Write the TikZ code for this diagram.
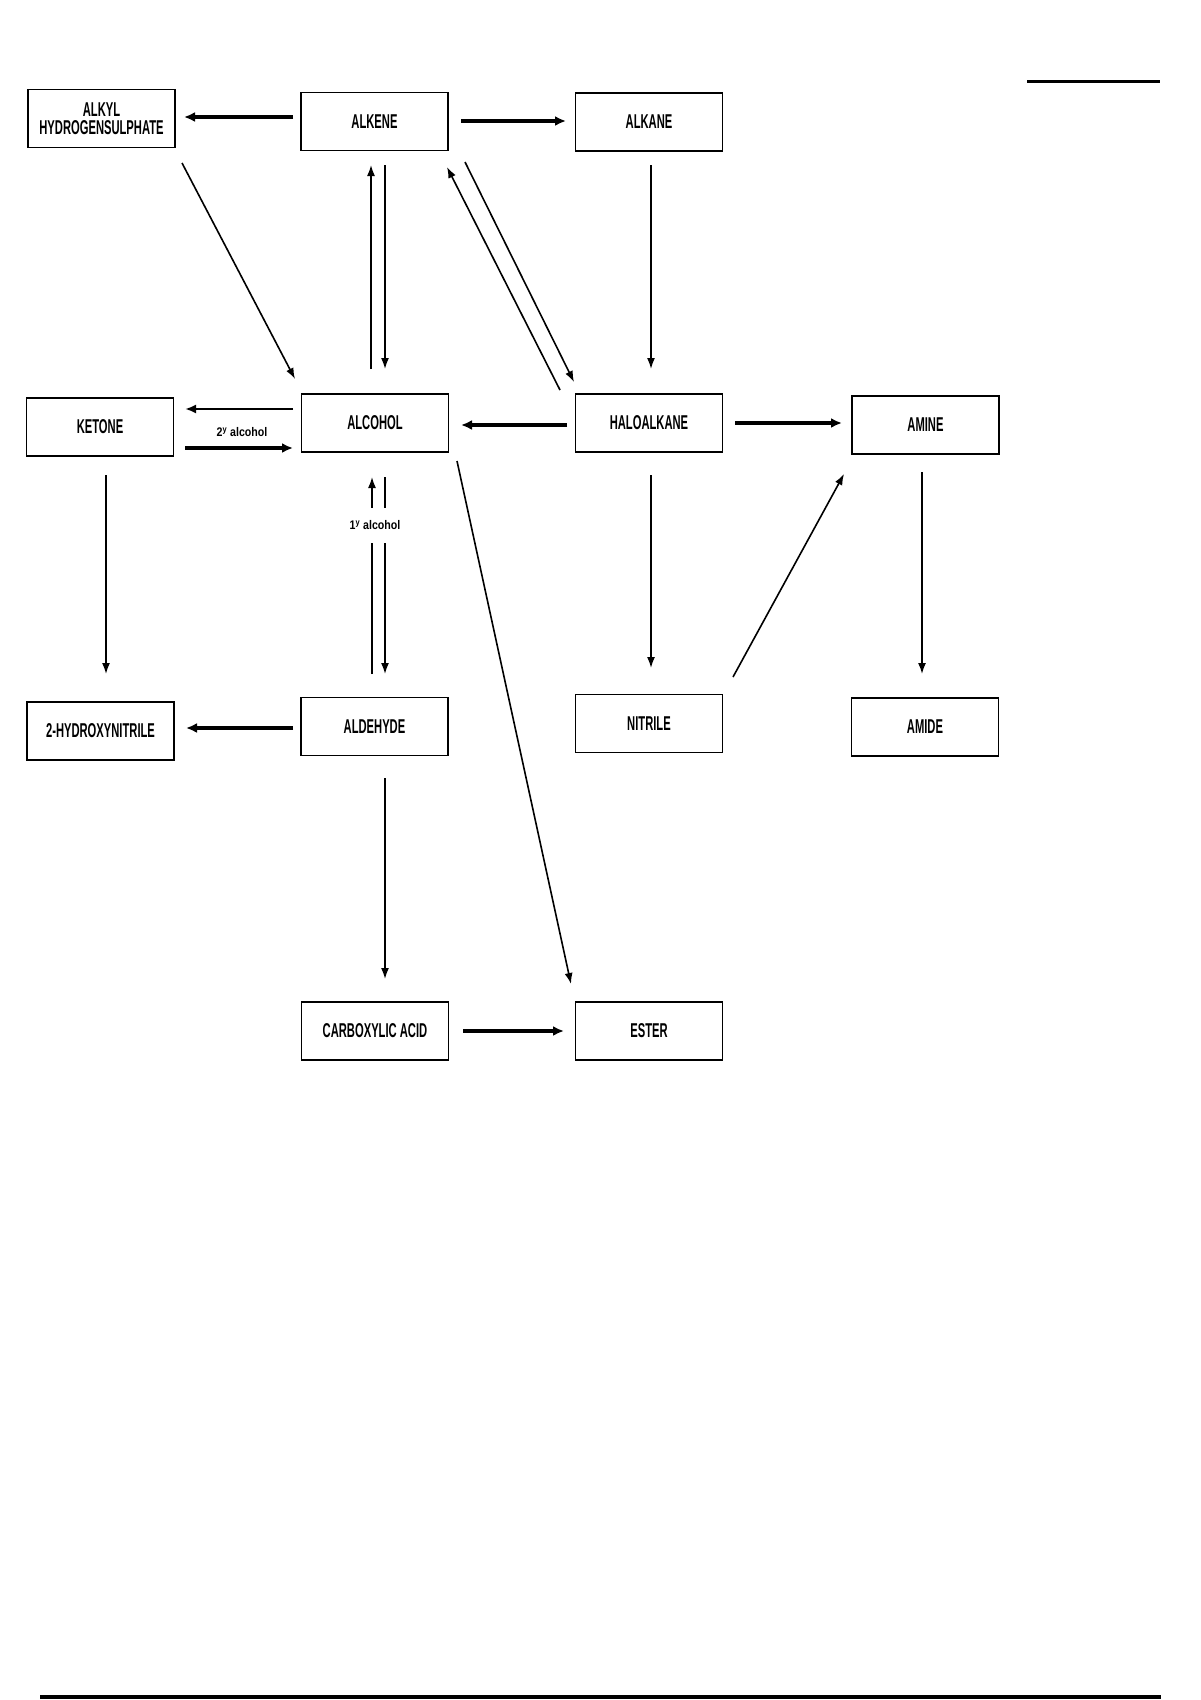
\documentclass[tikz,border=0pt]{standalone}
\usepackage{fontspec}
\setmainfont{Liberation Sans}[FakeStretch=0.56]
\newfontfamily\labelfont{Liberation Sans}[FakeStretch=0.85]
\usetikzlibrary{arrows.meta,calc}
\begin{document}
\begin{tikzpicture}[x=1pt,y=-1pt,
  box/.style={draw,line width=1.8pt,minimum width=147pt,minimum height=58pt,inner sep=0pt,align=center,font=\fontsize{20}{18}\selectfont\bfseries},
  thinarrow/.style={line width=1.6pt,-{Latex[length=11pt,width=8pt]}},
  thickarrow/.style={line width=3.2pt,-{Latex[length=11pt,width=10pt]}},
  lab/.style={font=\labelfont\fontsize{12.5}{14}\selectfont\bfseries,inner sep=0pt},
  rule/.style={line width=3pt}]
\useasboundingbox (0,0) rectangle (1200,1700);

\node[box] (alkyl) at (101.5,118.5) {ALKYL\\HYDROGENSULPHATE};
\node[box] (alkene) at (374.5,121.5) {ALKENE};
\node[box] (alkane) at (649,122) {ALKANE};
\node[box] (ketone) at (100,427) {KETONE};
\node[box] (alcohol) at (375,423) {ALCOHOL};
\node[box] (halo) at (649,423) {HALOALKANE};
\node[box] (amine) at (925.5,425) {AMINE};
\node[box] (hydroxy) at (100.5,731) {2-HYDROXYNITRILE};
\node[box] (aldehyde) at (374.5,726.5) {ALDEHYDE};
\node[box] (nitrile) at (649,723.5) {NITRILE};
\node[box] (amide) at (925,727) {AMIDE};
\node[box] (acid) at (375,1031) {CARBOXYLIC ACID};
\node[box] (ester) at (649,1031) {ESTER};

% row 1
\draw[thickarrow] ($(alkene)+(-81.5,-4.5)$) -- ($(alkyl)+(82.5,-1.5)$);
\draw[thickarrow] ($(alkene)+(86.5,-0.5)$) -- ($(alkane)+(-83,-1)$);
\draw[thinarrow] ($(alkyl)+(80.5,44.5)$) -- ($(alcohol)+(-80,-44)$);
\draw[thinarrow] ($(alcohol)+(-4,-54)$) -- ($(alkene)+(-3.5,43.5)$);
\draw[thinarrow] ($(alkene)+(10.5,43.5)$) -- ($(alcohol)+(10,-54)$);
\draw[thinarrow] ($(halo)+(-89,-33)$) -- ($(alkene)+(72.5,45.5)$);
\draw[thinarrow] ($(alkene)+(90.5,40.5)$) -- ($(halo)+(-75,-41)$);
\draw[thinarrow] ($(alkane)+(2,43)$) -- ($(halo)+(2,-54)$);

% row 2
\draw[thickarrow] ($(halo)+(-82,2)$) -- ($(alcohol)+(86,2)$);
\draw[thickarrow] ($(halo)+(86,0)$) -- ($(amine)+(-83.5,-2)$);
\draw[line width=2.6pt,-{Latex[length=11pt,width=9pt]}] ($(alcohol)+(-82,-14)$) -- ($(ketone)+(85,-18)$);
\draw[thickarrow] ($(ketone)+(85,21)$) -- ($(alcohol)+(-82,25)$);
\node[lab] (lab2) at (242,432) {2\textsuperscript{y} alcohol};

\draw[thinarrow] ($(aldehyde)+(-2.5,-52.5)$) -- ($(alcohol)+(-3,54)$);
\draw[thinarrow] ($(alcohol)+(10,54)$) -- ($(aldehyde)+(10.5,-52.5)$);
\node[lab,fill=white,minimum height=35pt,minimum width=52pt] (lab1) at (375,525) {1\textsuperscript{y} alcohol};

\draw[thinarrow] ($(ketone)+(6,48)$) -- ($(hydroxy)+(5.5,-57)$);
\draw[thinarrow] ($(halo)+(2,52)$) -- ($(nitrile)+(2,-55.5)$);
\draw[thinarrow] ($(nitrile)+(84,-46.5)$) -- ($(amine)+(-81.5,49)$);
\draw[thinarrow] ($(amine)+(-3.5,47)$) -- ($(amide)+(-3,-53)$);
\draw[thinarrow] ($(alcohol)+(82,38)$) -- ($(ester)+(-78,-47)$);

% row 3 / 4
\draw[thickarrow] ($(aldehyde)+(-81.5,1.5)$) -- ($(hydroxy)+(85.5,-3)$);
\draw[thinarrow] ($(aldehyde)+(10.5,51.5)$) -- ($(acid)+(10,-52)$);
\draw[thickarrow] ($(acid)+(88,0)$) -- ($(ester)+(-85,0)$);

% page rules
\draw[rule] (1027,81) -- (1160,81);
\draw[rule,line width=4pt] (40,1697) -- (1161,1697);
\end{tikzpicture}
\end{document}
